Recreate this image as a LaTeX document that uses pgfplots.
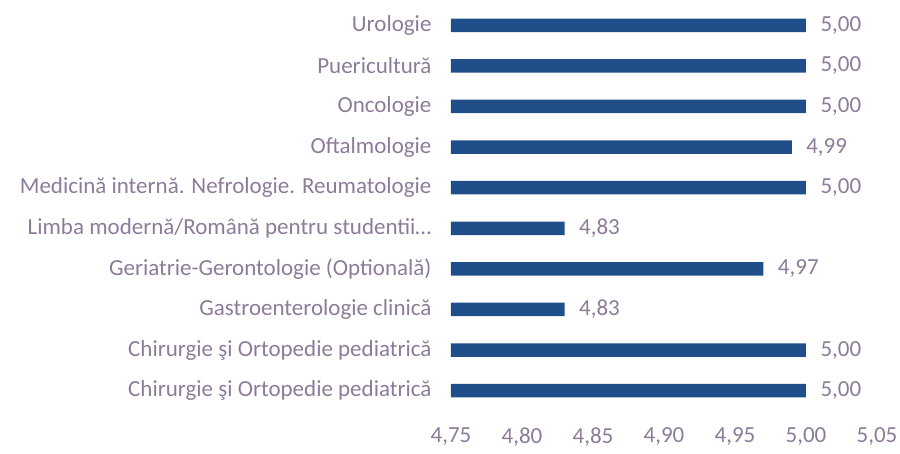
\documentclass[border=0pt]{standalone}
\usepackage{pgfplots}
\pgfplotsset{compat=1.18}
\usepackage{fontspec}
\setmainfont{Carlito}
\definecolor{lab}{HTML}{8C7C9A}
\definecolor{barc}{HTML}{1F4E89}
\begin{document}
\begin{tikzpicture}
\useasboundingbox (-451pt,-42pt) rectangle (449pt,411pt);
\begin{axis}[
  at={(0,0)}, anchor=south west,
  scale only axis, width=426pt, height=406pt,
  xbar, bar width=13.5pt,
  xmin=4.75, xmax=5.05, ymin=-0.5, ymax=9.5,
  xtick={4.75,4.80,4.85,4.90,4.95,5.00,5.05},
  ytick={0,1,2,3,4,5,6,7,8,9},
  yticklabels={{Chirurgie şi Ortopedie pediatrică},{Chirurgie şi Ortopedie pediatrică},{Gastroenterologie clinică},{Geriatrie-Gerontologie (Optională)},{Limba modernă/Română pentru studentii…},{Medicină internă. Nefrologie. Reumatologie},{Oftalmologie},{Oncologie},{Puericultură},{Urologie}},
  axis line style={draw=none},
  major tick length=0pt,
  tick label style={font=\fontsize{23}{25}\selectfont, text=lab},
  yticklabel style={xshift=-16pt},
  xticklabel style={yshift=-13pt},
  /pgf/number format/.cd, fixed, fixed zerofill, precision=2, use comma, assume math mode=true,
  /pgfplots/.cd,
  nodes near coords,
  every node near coord/.append style={font=\fontsize{23}{25}\selectfont, text=lab, xshift=11pt,
    /pgf/number format/.cd, fixed, fixed zerofill, precision=2, use comma, assume math mode=true},
]
\addplot[fill=barc, draw=none] coordinates {
(5.00,0) (5.00,1) (4.83,2) (4.97,3) (4.83,4) (5.00,5) (4.99,6) (5.00,7) (5.00,8) (5.00,9)};
\end{axis}
\end{tikzpicture}
\end{document}
